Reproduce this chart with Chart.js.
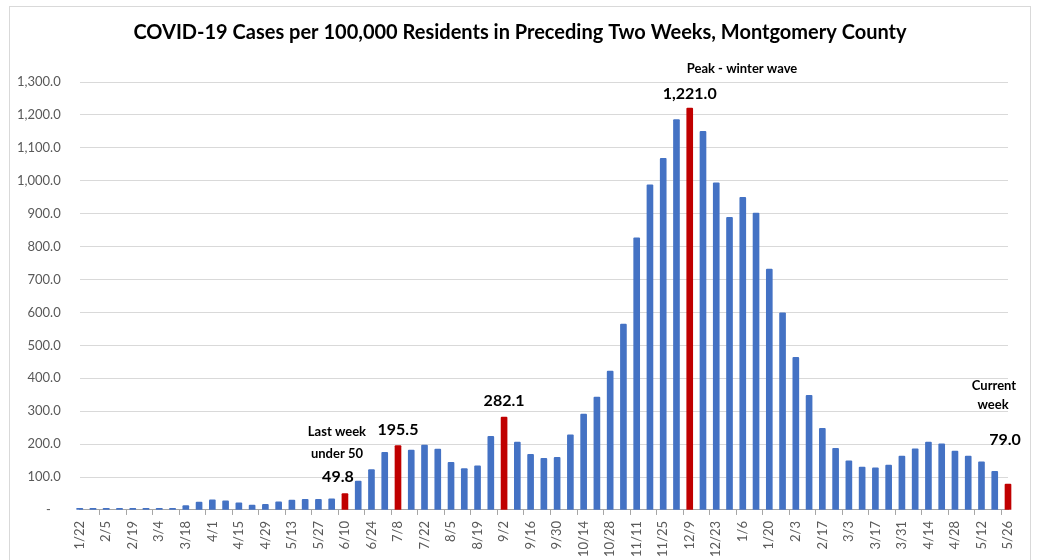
<!DOCTYPE html>
<html>
<head>
<meta charset="utf-8">
<script src="https://cdn.jsdelivr.net/npm/chart.js@4"></script>
<style>
  html, body { margin: 0; padding: 0; background: #fff; }
  #wrap { position: relative; width: 1037px; height: 560px; overflow: hidden; }
  #frame { position: absolute; left: 9px; top: 6px; width: 1020px; height: 600px; border: 1px solid #d9d9d9; }
  #chart { position: absolute; left: 0; top: 0; }
</style>
</head>
<body>
<div id="wrap">
  <div id="frame"></div>
  <canvas id="chart" width="1037" height="560"></canvas>
</div>
<script>
const weeks = [
    '1/22', '1/29', '2/5', '2/12', '2/19', '2/26', '3/4', '3/11', '3/18', '3/25',
    '4/1', '4/8', '4/15', '4/22', '4/29', '5/6', '5/13', '5/20', '5/27', '6/3',
    '6/10', '6/17', '6/24', '7/1', '7/8', '7/15', '7/22', '7/29', '8/5', '8/12',
    '8/19', '8/26', '9/2', '9/9', '9/16', '9/23', '9/30', '10/7', '10/14', '10/21',
    '10/28', '11/4', '11/11', '11/18', '11/25', '12/2', '12/9', '12/16', '12/23', '12/30',
    '1/6', '1/13', '1/20', '1/27', '2/3', '2/10', '2/17', '2/24', '3/3', '3/10',
    '3/17', '3/24', '3/31', '4/7', '4/14', '4/21', '4/28', '5/5', '5/12', '5/19',
    '5/26'
];

const casesPer100k = [
    5, 5, 5, 5, 5, 5, 5, 5, 13, 24,
    31, 28, 22, 15, 17, 25, 30, 32, 32, 34,
    49.8, 88, 123, 175, 195.5, 182, 197, 185, 145, 126,
    134, 224, 282.1, 206, 169, 157, 160, 228, 291, 343,
    422, 565, 827, 988, 1068, 1186, 1221.0, 1150, 994, 889,
    950, 902, 732, 599, 464, 348, 248, 187, 149, 130,
    128, 136, 164, 186, 206, 201, 179, 164, 146, 117,
    79.0
];

// indexes of the bars shown in red
const highlightWeeks = [20, 24, 32, 46, 70];

const yTicks = [0, 100, 200, 300, 400, 500, 600, 700, 800, 900, 1000, 1100, 1200, 1300];

const TITLE = 'COVID-19 Cases per 100,000 Residents in Preceding Two Weeks, Montgomery County';
const BLUE = '#4472C4';
const RED = '#C00000';
const FONT = 'Lato, "Open Sans", sans-serif';

// text notes placed relative to the top of a bar
const notes = [
    { idx: 20, lines: [
        { text: 'Last week', dx: -8, dy: -62, size: 13 },
        { text: 'under 50', dx: -8, dy: -40, size: 13 },
        { text: '49.8', dx: -7, dy: -17, size: 16 }
    ]},
    { idx: 24, lines: [{ text: '195.5', dx: 0, dy: -16, size: 16 }] },
    { idx: 32, lines: [{ text: '282.1', dx: 0, dy: -16, size: 16 }] },
    { idx: 46, lines: [
        { text: 'Peak - winter wave', dx: -3, dy: -39, size: 13, align: 'left' },
        { text: '1,221.0', dx: 0, dy: -14, size: 16 }
    ]},
    { idx: 70, lines: [
        { text: 'Current', dx: -14, dy: -98, size: 13 },
        { text: 'week', dx: -15, dy: -79, size: 13 },
        { text: '79.0', dx: -3, dy: -44, size: 16 }
    ]}
];

const notesPlugin = {
    id: 'notes',
    afterDatasetsDraw(chart) {
        const ctx = chart.ctx;
        const xs = chart.scales.x;
        const ys = chart.scales.y;
        ctx.save();
        ctx.fillStyle = '#000';
        ctx.textBaseline = 'middle';

        // title centred on the outer frame
        ctx.font = `bold 20px ${FONT}`;
        ctx.textAlign = 'center';
        ctx.fillText(TITLE, 520, 33);

        notes.forEach(n => {
            const x = xs.getPixelForValue(n.idx);
            const y = ys.getPixelForValue(casesPer100k[n.idx]);
            n.lines.forEach(l => {
                ctx.font = `bold ${l.size}px ${FONT}`;
                ctx.textAlign = l.align || 'center';
                ctx.fillText(l.text, x + l.dx, y + l.dy);
            });
        });
        ctx.restore();
    }
};

function fmt(v) {
    if (v === 0) return '-   ';
    return v.toLocaleString('en-US', { minimumFractionDigits: 1, maximumFractionDigits: 1 });
}

new Chart(document.getElementById('chart'), {
    type: 'bar',
    data: {
        labels: weeks,
        datasets: [{
            data: casesPer100k,
            backgroundColor: casesPer100k.map((v, i) => highlightWeeks.includes(i) ? RED : BLUE),
            barThickness: 6,
            borderRadius: 1,
            clip: false
        }]
    },
    options: {
        responsive: false,
        animation: false,
        layout: { padding: { left: -2, right: 29, top: 82, bottom: -3 } },
        plugins: {
            legend: { display: false },
            tooltip: { enabled: false },
            title: { display: false }
        },
        scales: {
            x: {
                offset: false,
                border: { color: '#a6a6a6' },
                grid: {
                    drawOnChartArea: false,
                    tickLength: 5,
                    color: ctx => ctx.index % 2 === 0 ? '#a6a6a6' : 'rgba(0,0,0,0)'
                },
                ticks: {
                    autoSkip: false,
                    maxRotation: 90,
                    minRotation: 90,
                    padding: 6,
                    color: '#595959',
                    font: { family: FONT, size: 13 },
                    callback: (v, i) => i % 2 === 0 ? weeks[i] : ''
                }
            },
            y: {
                min: 0,
                max: 1300,
                afterBuildTicks: scale => { scale.ticks = yTicks.map(v => ({ value: v })); },
                border: { display: false },
                grid: { color: '#d9d9d9', drawTicks: false },
                ticks: {
                    padding: 19,
                    color: '#595959',
                    font: { family: FONT, size: 13 },
                    callback: v => fmt(v)
                }
            }
        }
    },
    plugins: [notesPlugin]
});
</script>
</body>
</html>
